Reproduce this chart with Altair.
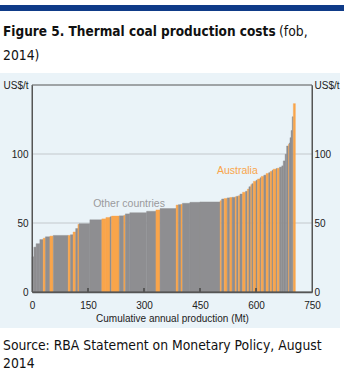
import altair as alt
import pandas as pd

# ---- data (cumulative production boundaries, Mt) ----
bounds = [0, 5, 11, 21, 30, 36, 48, 57, 97, 103,
          110, 117, 123, 126, 155, 187, 198, 209, 213, 234,
          246, 250, 262, 307, 332, 343, 386, 392, 399, 403,
          423, 450, 504, 508, 515, 523, 530, 536, 544, 548,
          553, 557, 564, 572, 577, 581, 586, 589, 593, 600,
          604, 611, 614, 621, 627, 634, 638, 643, 646, 654,
          657, 663, 669, 673, 678, 682, 687, 689, 691, 694,
          697, 700, 705.5]
costs = [25.5, 32.5, 35, 38, 39, 40, 40.5, 41, 41, 41.5,
         43.5, 46, 49, 49.5, 52.3, 53, 54, 54.5, 55, 55.2,
         55.5, 56.6, 57.5, 58.5, 59.5, 60.5, 63, 63.3, 63.5, 64.3,
         65, 65.3, 66.2, 67.4, 67.8, 68.2, 68.5, 68.6, 69, 69.4,
         69.8, 71, 72.3, 73, 74.6, 76.3, 77.8, 78.5, 80.2, 81,
         81.9, 82.8, 83.8, 84.7, 85.9, 86.5, 87.4, 88.2, 89, 89.5,
         89.7, 90.5, 91.4, 95, 99.8, 105.8, 107, 108, 111.8, 117,
         127, 136.5]
is_australia = ("GGGGAGAGAG" "AGAGGAAGAG" "AGGGAGAGAG" "GGAGAGAGAG"
                "AGAGAGAGAG" "AGAGAGAGAG" "AGGGGGAGGG" "GA")

x_ticks = [0, 150, 300, 450, 600, 750]
y_ticks = [0, 50, 100, 150]
grid_vals = [50, 100]

label_text = ["Other countries", "Australia"]
label_x = [260, 550]
label_y = [64, 87.5]
label_kind = ["Other countries", "Australia"]

title_bold = "Figure 5. Thermal coal production costs"
title_rest1 = "(fob,"
title_rest2 = "2014)"
source1 = "Source: RBA Statement on Monetary Policy, August"
source2 = "2014"
x_title = "Cumulative annual production (Mt)"

GREY = "#8e8e91"
ORANGE = "#f9a54b"
PANEL = "#eaf3f8"
NAVY = "#0f3b88"
SANS = "Liberation Sans, Arial, Helvetica, sans-serif"
COND = "DejaVu Sans Condensed, Liberation Sans, sans-serif"

segs = pd.DataFrame({
    "start": bounds[:-1],
    "end": bounds[1:],
    "cost": costs,
    "origin": ["Australia" if c == "A" else "Other countries" for c in is_australia],
})

W, H = 280, 207
xs = alt.Scale(domain=[0, 750], nice=False, zero=True)
ys = alt.Scale(domain=[0, 150], nice=False)
col = alt.Scale(domain=["Other countries", "Australia"], range=[GREY, ORANGE])

x_axis = alt.Axis(values=x_ticks, title=x_title, ticks=False, zindex=2,
                  domainColor="#555555", domainWidth=1.5,
                  labelFont=SANS, labelFontSize=10, labelColor="#222222",
                  labelPadding=8, titleFont=SANS, titleFontSize=10,
                  titleFontWeight="normal", titleColor="#222222",
                  titlePadding=3, grid=False, labelFlush=False)

one = pd.DataFrame({"k": [0]})

panel = alt.Chart(one).mark_rect(color=PANEL).encode(
    x=alt.value(-32), x2=alt.value(308), y=alt.value(-12), y2=alt.value(243))
navy = alt.Chart(one).mark_rect(color=NAVY).encode(
    x=alt.value(-32), x2=alt.value(312), y=alt.value(-80), y2=alt.value(-74))

grid = alt.Chart(pd.DataFrame({"g": grid_vals})).mark_rule(
    color="#c3c8cc", strokeWidth=1).encode(
    y=alt.Y("g:Q", scale=ys, axis=None), x=alt.value(0), x2=alt.value(W))

bars = alt.Chart(segs).mark_rect(strokeWidth=0.4).encode(
    x=alt.X("start:Q", scale=xs, axis=x_axis),
    x2="end:Q",
    y=alt.Y("cost:Q", scale=ys,
            axis=alt.Axis(values=y_ticks, orient="left", title=None, ticks=False, zindex=2,
                          domainColor="#555555", labelFont=SANS, labelFontSize=10,
                          labelColor="#222222", labelPadding=4, grid=False,
                          labelExpr="datum.value == 150 ? 'US$/t' : datum.label")),
    y2=alt.datum(0),
    color=alt.Color("origin:N", scale=col, legend=None),
    stroke=alt.Stroke("origin:N", scale=col, legend=None),
)

right_axis = alt.Chart(pd.DataFrame({"v": y_ticks})).mark_point(opacity=0).encode(
    y=alt.Y("v:Q", scale=ys,
            axis=alt.Axis(values=y_ticks, orient="right", title=None, ticks=False, zindex=2,
                          domainColor="#555555", labelFont=SANS, labelFontSize=10,
                          labelColor="#222222", labelPadding=2, grid=False,
                          labelExpr="datum.value == 150 ? 'US$/t' : datum.label")),
    x=alt.value(0))

frame = alt.Chart(one).mark_rect(filled=False, stroke="#555555", strokeWidth=1).encode(
    x=alt.value(0), x2=alt.value(W), y=alt.value(0), y2=alt.value(H))

xtick = alt.Chart(pd.DataFrame({"t": x_ticks[1:-1]})).mark_rule(
    color="#444444", strokeWidth=1.5).encode(
    x=alt.X("t:Q", scale=xs, axis=x_axis), y=alt.value(H - 4), y2=alt.value(H))

labels = alt.Chart(pd.DataFrame({"txt": label_text, "lx": label_x, "ly": label_y,
                                 "kind": label_kind})).mark_text(
    font=SANS, fontSize=10.5, baseline="middle", align="center").encode(
    x=alt.X("lx:Q", scale=xs, axis=x_axis), y=alt.Y("ly:Q", scale=ys, axis=None), text="txt:N",
    color=alt.Color("kind:N", scale=alt.Scale(domain=["Other countries", "Australia"],
                                              range=["#9a9a9c", ORANGE]), legend=None))


def txt(s, x, y, size, bold=False):
    return alt.Chart(pd.DataFrame({"s": [s]})).mark_text(
        font=COND, fontSize=size, fontWeight="bold" if bold else "normal",
        align="left", baseline="alphabetic", color="#111111").encode(
        text="s:N", x=alt.value(x), y=alt.value(y))


texts = [
    txt(title_bold, -29, -49, 13.5, bold=True),
    txt(title_rest1, 247, -49, 13.8),
    txt(title_rest2, -29, -25.5, 13.8),
    txt(source1, -29, 265, 13.8),
    txt(source2, -29, 283, 13.8),
]

chart = alt.layer(panel, navy, grid, bars, right_axis, xtick, frame, labels, *texts).resolve_axis(
    y="independent").resolve_scale(color="independent", stroke="independent").properties(
    width=W, height=H,
    autosize=alt.AutoSizeParams(type="none"),
    padding={"left": 32, "top": 85, "right": 32, "bottom": 82},
    background="white",
).configure_view(stroke=None, fill=PANEL)

chart.save("out.html", embed_options={"renderer": "svg", "actions": False})
